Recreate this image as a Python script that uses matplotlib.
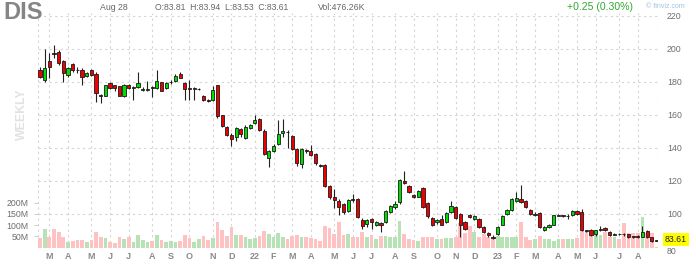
import pandas as pd
import matplotlib
matplotlib.use('Agg')
import matplotlib.pyplot as plt
import matplotlib.transforms as mtransforms

plt.rcParams['font.family'] = ['Liberation Sans', 'DejaVu Sans']

# weekly DIS candles, Feb 2021 .. Aug 2023
start = '2021-02-15'
opens = [
    186.7, 181.0, 192.3, 197.2, 198.0, 192.3, 184.2, 190.7, 187.2, 186.7,
    183.6, 186.7, 184.7, 171.8, 171.5, 179.0, 177.6, 177.0, 171.0, 178.0,
    176.1, 176.6, 175.1, 175.1, 176.4, 176.2, 179.6, 176.2, 179.5, 180.2,
    184.7, 179.2, 175.8, 175.4, 175.4, 171.5, 169.0, 168.5, 177.6, 159.4,
    152.3, 147.7, 146.3, 151.3, 145.9, 151.7, 154.7, 157.4, 150.0, 133.8,
    137.8, 142.2, 148.7, 149.5, 146.7, 139.2, 129.7, 138.3, 137.8, 135.8,
    129.2, 129.1, 116.4, 110.0, 107.5, 105.9, 101.8, 108.9, 108.9, 96.2,
    93.8, 96.8, 93.1, 94.0, 94.7, 101.2, 103.8, 106.8, 120.0, 116.4,
    111.3, 110.3, 115.3, 106.3, 97.4, 94.7, 96.8, 94.7, 100.8, 104.2,
    99.8, 94.7, 98.8, 96.8, 96.8, 92.1, 88.0, 86.0, 87.7, 93.3,
    99.4, 102.2, 107.5, 108.9, 107.5, 102.2, 99.3, 100.5, 90.1, 91.7,
    93.3, 98.7, 98.8, 98.5, 98.8, 101.4, 100.8, 89.8, 90.1, 87.7,
    89.7, 91.5, 88.7, 87.2, 87.6, 87.5, 87.3, 86.1, 86.1, 86.0,
    89.3, 85.5, 83.81]
highs = [
    188.5, 200.0, 197.0, 202.4, 199.0, 193.0, 188.5, 191.5, 189.0, 188.0,
    186.0, 187.5, 185.5, 172.5, 178.0, 179.5, 178.0, 177.5, 178.5, 178.5,
    177.0, 185.6, 176.5, 180.6, 177.0, 186.7, 180.0, 179.6, 181.0, 184.5,
    186.0, 180.0, 181.0, 176.5, 176.0, 172.0, 169.5, 177.0, 178.0, 160.0,
    153.0, 148.5, 152.5, 152.0, 153.5, 154.5, 159.4, 158.0, 151.0, 138.5,
    142.0, 156.4, 157.0, 150.5, 147.5, 140.0, 140.0, 139.0, 141.7, 136.5,
    129.8, 130.0, 117.0, 115.0, 108.5, 106.5, 108.8, 112.0, 109.5, 97.0,
    96.8, 97.5, 95.2, 95.0, 102.2, 105.3, 107.5, 121.0, 125.6, 117.0,
    112.0, 114.5, 116.0, 107.0, 98.0, 96.8, 99.0, 101.2, 107.4, 104.8,
    100.3, 95.2, 99.6, 98.8, 97.3, 92.6, 88.5, 86.8, 92.6, 98.8,
    102.8, 109.4, 113.0, 117.0, 108.0, 102.8, 101.0, 101.2, 92.6, 93.8,
    99.3, 99.5, 99.3, 99.5, 101.9, 101.9, 103.0, 90.3, 90.6, 90.2,
    92.4, 92.0, 89.2, 88.0, 88.1, 88.0, 87.8, 86.6, 86.8, 92.4,
    89.8, 85.9, 83.94]
lows = [
    182.0, 180.0, 182.0, 194.0, 190.0, 179.6, 183.0, 186.0, 185.0, 178.0,
    183.0, 183.5, 167.5, 166.7, 171.0, 175.5, 174.5, 171.0, 170.5, 175.5,
    169.0, 176.0, 174.5, 174.0, 170.5, 175.5, 174.0, 175.5, 178.5, 179.8,
    182.0, 168.5, 168.5, 168.5, 174.8, 168.0, 167.5, 168.0, 158.0, 152.5,
    146.8, 141.2, 144.0, 146.5, 145.0, 151.0, 154.0, 150.0, 135.5, 128.0,
    137.0, 141.5, 146.5, 139.4, 138.5, 129.0, 127.5, 136.5, 134.8, 129.5,
    128.3, 116.0, 109.0, 103.5, 99.0, 100.0, 101.2, 107.0, 97.0, 90.5,
    92.0, 90.5, 92.2, 88.7, 94.0, 100.5, 103.0, 106.0, 117.8, 112.3,
    109.3, 109.8, 103.2, 97.5, 92.5, 93.5, 92.8, 94.2, 100.3, 96.8,
    85.5, 90.0, 97.2, 96.3, 91.5, 88.1, 85.5, 84.3, 87.2, 92.8,
    98.9, 101.7, 107.0, 106.2, 103.6, 98.9, 98.5, 91.5, 89.6, 91.2,
    92.8, 98.2, 98.0, 96.5, 98.3, 98.9, 89.6, 88.9, 86.2, 86.5,
    89.2, 89.6, 86.2, 86.7, 86.9, 86.6, 85.1, 85.3, 85.2, 85.5,
    85.1, 82.9, 83.53]
closes = [
    183.0, 188.0, 189.0, 196.8, 191.0, 185.3, 188.0, 187.0, 186.9, 182.6,
    185.3, 184.0, 172.9, 171.4, 177.6, 176.0, 176.2, 171.5, 178.0, 176.2,
    176.4, 179.0, 175.4, 175.4, 176.1, 180.2, 174.5, 179.2, 179.8, 183.6,
    182.3, 175.2, 175.5, 175.8, 175.7, 168.5, 167.9, 175.0, 158.8, 152.9,
    147.3, 145.3, 151.9, 147.9, 152.7, 153.9, 156.8, 150.7, 136.2, 137.8,
    141.2, 148.3, 150.3, 149.3, 139.2, 130.5, 139.2, 138.1, 135.2, 130.5,
    129.0, 116.4, 110.0, 108.3, 103.8, 100.8, 108.3, 107.9, 97.7, 92.7,
    96.2, 94.7, 94.7, 93.1, 101.8, 104.8, 105.5, 120.4, 118.6, 112.9,
    109.9, 113.9, 103.8, 98.2, 93.3, 96.2, 93.3, 100.6, 104.8, 97.4,
    93.3, 90.7, 97.8, 98.2, 92.1, 88.7, 86.7, 85.3, 92.1, 98.2,
    102.2, 108.9, 109.5, 106.8, 104.2, 99.4, 99.8, 92.1, 92.1, 93.3,
    98.8, 98.9, 98.6, 98.7, 101.4, 99.4, 90.1, 89.6, 86.7, 89.7,
    90.9, 90.1, 86.7, 87.5, 87.4, 87.3, 85.6, 85.9, 85.9, 88.7,
    85.6, 83.4, 83.61]
volumes = [  # millions
    41, 82, 46, 82, 68, 49, 25, 31, 34, 34,
    25, 34, 68, 47, 41, 25, 19, 46, 37, 46,
    26, 55, 34, 26, 31, 55, 34, 26, 31, 26,
    31, 55, 44, 26, 37, 52, 34, 41, 114, 79,
    52, 93, 58, 56, 45, 38, 42, 50, 75, 62,
    48, 66, 45, 38, 50, 58, 46, 45, 42, 40,
    27, 94, 86, 61, 112, 57, 60, 46, 45, 67,
    46, 57, 37, 52, 52, 46, 46, 119, 61, 39,
    34, 30, 49, 46, 49, 40, 40, 42, 42, 46,
    109, 64, 94, 67, 49, 61, 46, 49, 52, 49,
    46, 46, 46, 112, 45, 34, 37, 52, 37, 40,
    27, 40, 40, 40, 40, 42, 79, 72, 52, 61,
    57, 67, 49, 49, 37, 108, 64, 64, 64, 135,
    64, 64, 0.48]
price_ticks = [80, 100, 120, 140, 160, 180, 200, 220]
vol_ticks = [50, 100, 150, 200]
last_price = 83.61

dates = pd.date_range(start, periods=len(closes), freq='W-MON')
x = list(range(len(closes)))
up = [c >= o for o, c in zip(opens, closes)]

# month ticks: first week whose Friday falls in a new month (not the live week)
tick_pos, tick_lab = [], []
prev = None
for i, d in enumerate(dates[:-1]):
    fri = d + pd.Timedelta(days=4)
    if prev is not None and fri.month != prev:
        tick_pos.append(i)
        tick_lab.append(fri.strftime('%y') if fri.month == 1 else fri.strftime('%b')[0])
    prev = fri.month

W, H = 696, 264
fig = plt.figure(figsize=(W / 100, H / 100), dpi=100)
rect = [38 / W, 1 - 247.5 / H, 620 / W, 234.5 / H]
axv = fig.add_axes(rect)
ax = fig.add_axes(rect, sharex=axv)
ax.patch.set_alpha(0)

x0 = -0.43
x1 = x0 + 620 / 4.67
axv.set_xlim(x0, x1)
ax.set_ylim(80 - 1 / 1.65, 220 + 2.5 / 1.65)
axv.set_ylim(0, 234.5 / 0.224)

grid_kw = dict(color='#d4d4d4', lw=0.8, dashes=(2, 3), zorder=0)
for p in price_ticks[1:]:
    ax.axhline(p, **grid_kw)
for t in tick_pos:
    axv.axvline(t, **grid_kw)
axv.axvline(x0 + 0.05, **grid_kw)
axv.axvline(x1 - 0.05, **grid_kw)

# volume
vcol = ['#b6e2b6' if u else '#ffc2c2' for u in up]
axv.bar(x, volumes, width=0.8, color=vcol, linewidth=0, zorder=1)

# candles
ax.vlines(x, lows, highs, color='#222222', lw=0.8, zorder=2)
bottoms = [min(o, c) for o, c in zip(opens, closes)]
heights = [max(abs(c - o), 0.05) for o, c in zip(opens, closes)]
ccol = ['#00dd00' if u else '#ee0000' for u in up]
ax.bar(x, heights, bottom=bottoms, width=0.68, color=ccol,
       edgecolor='#1a1a1a', linewidth=0.6, zorder=3)

for a in (ax, axv):
    for s in a.spines.values():
        s.set_visible(False)

ax.yaxis.tick_right()
ax.set_yticks(price_ticks)
ax.set_yticklabels([str(p) for p in price_ticks])
ax.tick_params(axis='y', length=0, pad=6.5, labelsize=6.3, labelcolor='#6e6e6e')
ax.tick_params(axis='x', length=0)
ax.get_yticklabels()[0].set_va('top')

axv.set_yticks(vol_ticks)
axv.set_yticklabels([f'{v}M' for v in vol_ticks])
axv.tick_params(axis='y', length=3, width=0.6, color='#c8c8c8', pad=4,
                labelsize=6.3, labelcolor='#6e6e6e')
axv.set_xticks(tick_pos)
axv.set_xticklabels(tick_lab)
axv.tick_params(axis='x', length=0, pad=3.5, labelsize=6.5, labelcolor='#8a8a8a')
for lab in axv.get_xticklabels():
    lab.set_fontweight('bold')
plt.setp(ax.get_xticklabels(), visible=False)

# last price tag
trans = mtransforms.blended_transform_factory(ax.transAxes, ax.transData)
ax.text(1.0 + 7 / 620, last_price + 0.5, f'{last_price:.2f}', transform=trans,
        ha='left', va='center', fontsize=6.3, color='#222222', zorder=10,
        bbox=dict(boxstyle='square,pad=0.22', fc='#ffff00', ec='none'))

# header
def fx(px):
    return px / W

def fy(py):
    return 1 - py / H

fig.text(fx(3), fy(12.5), 'DIS', fontsize=17, fontweight='bold', color='#858585', va='center')
fig.text(fx(100), fy(7), 'Aug 28', fontsize=6.3, color='#666666', va='center')
fig.text(fx(155), fy(7), 'O:83.81  H:83.94  L:83.53  C:83.61', fontsize=6.2,
         color='#666666', va='center')
fig.text(fx(318), fy(7), 'Vol:476.26K', fontsize=6.3, color='#666666', va='center')
fig.text(fx(567), fy(7.5), '+0.25 (0.30%)', fontsize=7.6, color='#33a833', va='center')
fig.text(fx(646), fy(6), '\u00a9 finviz.com', fontsize=5, color='#9cc3e6', va='center')
fig.text(fx(22), fy(114), 'WEEKLY', fontsize=8.8, fontweight='bold', color='#e2e2e2',
         rotation=90, ha='center', va='center')

fig.savefig('out.png', dpi=100)
